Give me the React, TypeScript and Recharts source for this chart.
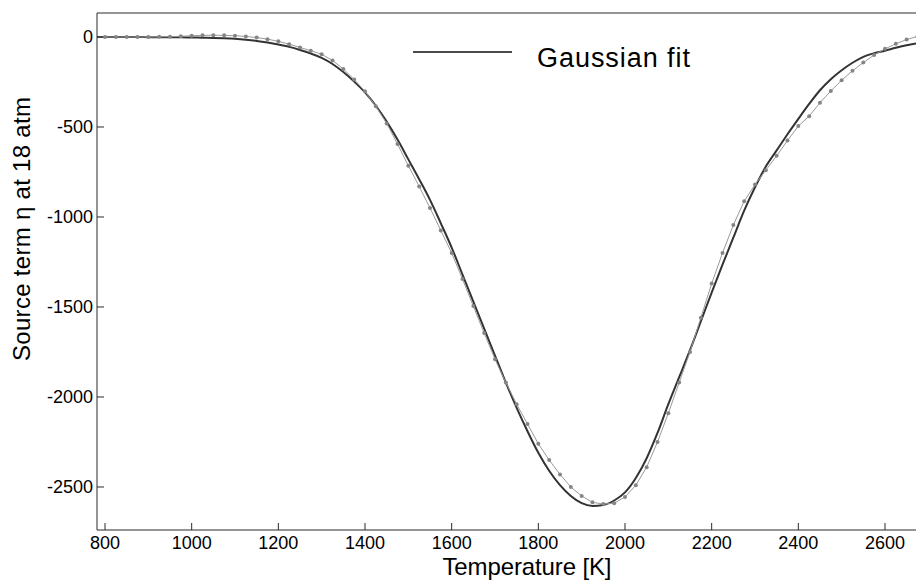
import { LineChart, Line, XAxis, YAxis, Legend } from 'recharts';

const temperature = [
  775, 800, 825, 850, 875, 900, 925, 950, 975, 1000,
  1025, 1050, 1075, 1100, 1125, 1150, 1175, 1200, 1225, 1250,
  1275, 1300, 1325, 1350, 1375, 1400, 1425, 1450, 1475, 1500,
  1525, 1550, 1575, 1600, 1625, 1650, 1675, 1700, 1725, 1750,
  1775, 1800, 1825, 1850, 1875, 1900, 1925, 1950, 1975, 2000,
  2025, 2050, 2075, 2100, 2125, 2150, 2175, 2200, 2225, 2250,
  2275, 2300, 2325, 2350, 2375, 2400, 2425, 2450, 2475, 2500,
  2525, 2550, 2575, 2600, 2625, 2650, 2675, 2700,
];

// thick dark curve
const gaussianFit = [
  0, 0, 0, 0, 0, -1, -1, -2, -2, -3,
  -4, -5, -7, -10, -15, -22, -31, -42, -55, -72,
  -92, -116, -150, -195, -248, -308, -382, -470, -570, -680,
  -790, -905, -1035, -1170, -1320, -1470, -1620, -1770, -1920, -2060,
  -2190, -2310, -2410, -2490, -2550, -2590, -2605, -2600, -2575, -2530,
  -2450, -2340, -2200, -2040, -1890, -1740, -1580, -1420, -1265, -1115,
  -965, -835, -720, -630, -540, -455, -372, -296, -235, -185,
  -143, -110, -90, -76, -60, -46, -35, -30,
];

// thin grey curve with dots
const measured = [
  0, 0, 0, 0, 0, 0, 1, 2, 4, 7,
  9, 10, 9, 7, 3, -3, -12, -24, -40, -58,
  -76, -96, -130, -178, -236, -302, -385, -480, -595, -715,
  -830, -950, -1075, -1200, -1345, -1495, -1645, -1790, -1920, -2040,
  -2150, -2260, -2350, -2430, -2500, -2550, -2585, -2595, -2590, -2555,
  -2490, -2390, -2250, -2090, -1920, -1750, -1560, -1370, -1200, -1045,
  -912, -820, -740, -660, -575, -495, -440, -365, -300, -240,
  -188, -142, -100, -66, -38, -14, 3, 10,
];

const xTicks = [800, 1000, 1200, 1400, 1600, 1800, 2000, 2200, 2400, 2600];
const yTicks = [0, -500, -1000, -1500, -2000, -2500];

const FONT = '"Liberation Sans", Arial, Helvetica, sans-serif';
const AXIS = '#2a2a2a';

const rows = temperature.map((T, i) => ({ T, fit: gaussianFit[i], measured: measured[i] }));

function LegendBox() {
  return (
    <svg width={320} height={44}>
      <line x1={8} x2={107} y1={22} y2={22} stroke="#111" strokeWidth={1.5} />
      <text x={132} y={36.5} fontSize={27} fontFamily={FONT} fill="#000" textLength={153} lengthAdjust="spacing">
        Gaussian fit
      </text>
    </svg>
  );
}

export default function App() {
  return (
    <div style={{ position: 'absolute', left: 0, top: 0, width: 916, height: 587, overflow: 'hidden', background: '#fff' }}>
      <LineChart width={920} height={587} data={rows} margin={{ top: 12, right: 0, bottom: 0, left: 0 }}>
        <XAxis
          xAxisId="top"
          orientation="top"
          type="number"
          dataKey="T"
          domain={[781.5, 2680.8]}
          allowDataOverflow
          ticks={xTicks}
          height={1}
          tick={false}
          tickSize={-7}
          axisLine={{ stroke: AXIS }}
          tickLine={{ stroke: AXIS }}
        />
        <XAxis
          type="number"
          dataKey="T"
          domain={[781.5, 2680.8]}
          allowDataOverflow
          ticks={xTicks}
          height={57}
          tickSize={-7}
          tickMargin={13}
          axisLine={{ stroke: AXIS }}
          tickLine={{ stroke: AXIS }}
          tick={{ fill: '#000', fontSize: 18, fontFamily: FONT }}
          label={() => (
            <text x={527} y={575} textAnchor="middle" fontSize={24} fontFamily={FONT} fill="#000" textLength={169} lengthAdjust="spacing">
              Temperature [K]
            </text>
          )}
        />
        <YAxis
          type="number"
          domain={[-2738.9, 133.3]}
          allowDataOverflow
          ticks={yTicks}
          width={97}
          tickSize={-7}
          tickMargin={11}
          axisLine={{ stroke: AXIS }}
          tickLine={{ stroke: AXIS }}
          tick={{ fill: '#000', fontSize: 18, fontFamily: FONT }}
          label={() => (
            <text
              x={30}
              y={229}
              transform="rotate(-90 30 229)"
              textAnchor="middle"
              fontSize={24}
              fontFamily={FONT}
              fill="#000"
              textLength={264}
              lengthAdjust="spacing"
            >
              Source term η at 18 atm
            </text>
          )}
        />
        <Legend
          layout="vertical"
          align="center"
          verticalAlign="middle"
          content={() => <LegendBox />}
          wrapperStyle={{ position: 'absolute', left: 405, top: 30, width: 320, height: 44 }}
        />
        <Line
          type="monotone"
          dataKey="fit"
          name="Gaussian fit"
          stroke="#333"
          strokeWidth={2}
          dot={false}
          isAnimationActive={false}
        />
        <Line
          type="linear"
          dataKey="measured"
          name="data"
          stroke="#9a9a9a"
          strokeWidth={1}
          dot={{ r: 2, fill: '#858585', stroke: 'none' }}
          isAnimationActive={false}
        />
      </LineChart>
    </div>
  );
}
